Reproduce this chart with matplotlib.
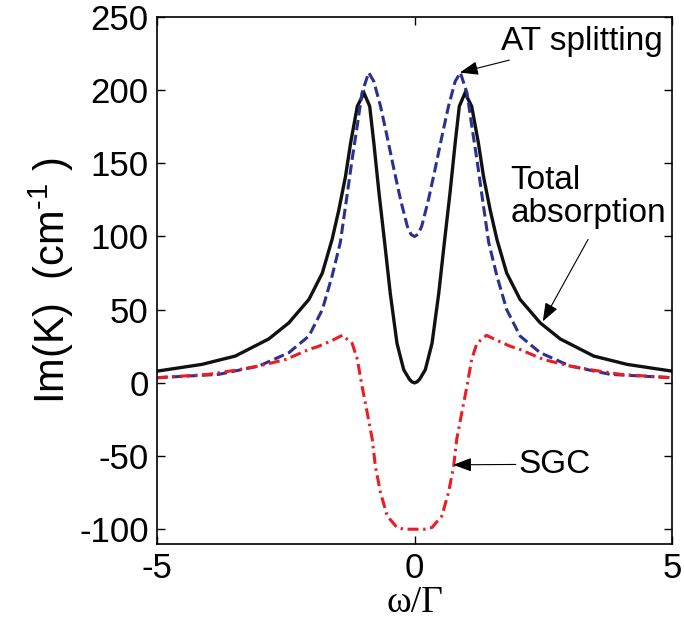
import matplotlib
matplotlib.use("Agg")
import matplotlib.pyplot as plt

# ---- data ----
x_total = [-5.0, -4.13, -3.48, -2.83, -2.44, -2.05, -1.79, -1.60, -1.47, -1.34, -1.24, -1.11,
           -0.98, -0.87, -0.79, -0.69, -0.58, -0.47, -0.34, -0.21, -0.10, -0.05, 0.0,
           0.05, 0.10, 0.21, 0.34, 0.47, 0.58, 0.69, 0.79, 0.87, 0.98, 1.11, 1.24, 1.34,
           1.47, 1.60, 1.79, 2.05, 2.44, 2.83, 3.48, 4.13, 5.0]
y_total = [8.0, 12.6, 18.3, 30.0, 41.0, 57.0, 75.0, 98.0, 118.0, 141.0, 164.0, 189.0,
           198.0, 189.0, 164.0, 130.0, 96.0, 61.0, 27.0, 9.0, 2.5, 0.7, 0.0,
           0.7, 2.5, 9.0, 27.0, 61.0, 96.0, 130.0, 164.0, 189.0, 198.0, 189.0, 164.0, 141.0,
           118.0, 98.0, 75.0, 57.0, 41.0, 30.0, 18.3, 12.6, 8.0]

x_at = [-5.0, -3.80, -3.02, -2.44, -2.05, -1.79, -1.60, -1.44, -1.31, -1.21, -1.11, -1.02,
        -0.89, -0.79, -0.66, -0.53, -0.40, -0.27, -0.14, -0.07, 0.0,
        0.07, 0.14, 0.27, 0.40, 0.53, 0.66, 0.79, 0.89, 1.02, 1.11, 1.21, 1.31, 1.44,
        1.60, 1.79, 2.05, 2.44, 3.02, 3.80, 5.0]
y_at = [3.5, 5.8, 11.5, 20.6, 32.0, 50.0, 73.0, 96.0, 128.0, 153.0, 176.0, 198.0,
        212.0, 206.0, 189.0, 168.0, 146.0, 125.0, 107.0, 101.5, 100.0,
        101.5, 107.0, 125.0, 146.0, 168.0, 189.0, 206.0, 212.0, 198.0, 176.0, 153.0, 128.0, 96.0,
        73.0, 50.0, 32.0, 20.6, 11.5, 5.8, 3.5]

x_sgc = [-5.0, -4.0, -3.5, -3.02, -2.50, -2.05, -1.86, -1.60, -1.40, -1.21, -1.11, -1.02,
         -0.92, -0.82, -0.76, -0.66, -0.53, -0.34, -0.20, 0.0,
         0.20, 0.34, 0.53, 0.66, 0.76, 0.82, 0.92, 1.02, 1.11, 1.21,
         1.40, 1.60, 1.86, 2.05, 2.50, 3.02, 3.5, 4.0, 5.0]
y_sgc = [3.5, 5.8, 8.5, 11.5, 16.0, 22.8, 25.0, 29.0, 32.5, 27.0, 16.0, -2.0,
         -20.0, -38.5, -57.0, -75.0, -91.0, -98.8, -100.0, -100.0,
         -100.0, -98.8, -91.0, -75.0, -57.0, -38.5, -20.0, -2.0, 16.0, 27.0,
         32.5, 29.0, 25.0, 22.8, 16.0, 11.5, 8.5, 5.8, 3.5]

y_ticks = [-100, -50, 0, 50, 100, 150, 200, 250]
x_ticks = [-5, 0, 5]

plt.rcParams['font.family'] = ['Liberation Sans', 'DejaVu Sans']
plt.rcParams['axes.unicode_minus'] = False
plt.rcParams['mathtext.fontset'] = 'custom'
plt.rcParams['mathtext.rm'] = 'Liberation Sans'
plt.rcParams['mathtext.it'] = 'Liberation Sans'

fig = plt.figure(figsize=(6.84, 6.28), dpi=100)
ax = fig.add_axes([0.2295, 0.134, 0.753, 0.839])

ax.plot(x_total, y_total, color='#111111', lw=2.4, solid_joinstyle='miter')
ax.plot(x_at, y_at, color='#2B3192', lw=2.2, dashes=[3.4, 1.5])
ax.plot(x_sgc, y_sgc, color='#ED1C24', lw=2.2, dashes=[3.6, 1.5, 0.8, 1.5])

ax.set_xlim(-5, 5)
ax.set_ylim(-110, 250)
ax.set_xticks(x_ticks)
ax.set_yticks(y_ticks)
ax.tick_params(direction='in', length=6, width=1, top=True, right=True,
               labelsize=25, pad=6)
for s in ax.spines.values():
    s.set_linewidth(1.2)

ax.set_ylabel('Im(K)  (cm$^{\\text{-1}}$ )', fontsize=30, labelpad=2)
ax.set_xlabel('ω/Γ', fontsize=27, family=['Liberation Serif', 'DejaVu Serif'], labelpad=0)

arrow = dict(arrowstyle='-|>,head_length=0.75,head_width=0.28', mutation_scale=15,
             color='black', lw=0.8, shrinkA=0, shrinkB=0)
ax.annotate('AT splitting', xy=(0.88, 212), xytext=(1.68, 233), fontsize=24,
            va='center', ha='left', arrowprops=arrow)
ax.annotate('', xy=(2.49, 42), xytext=(3.37, 98), arrowprops=arrow)
ax.text(1.86, 127, 'Total\nabsorption', fontsize=24, va='center', ha='left',
        linespacing=1.05)
ax.annotate('SGC', xy=(0.75, -56), xytext=(2.02, -55.6), fontsize=24,
            va='center', ha='left', arrowprops=arrow)

fig.savefig('out.png', dpi=100)
